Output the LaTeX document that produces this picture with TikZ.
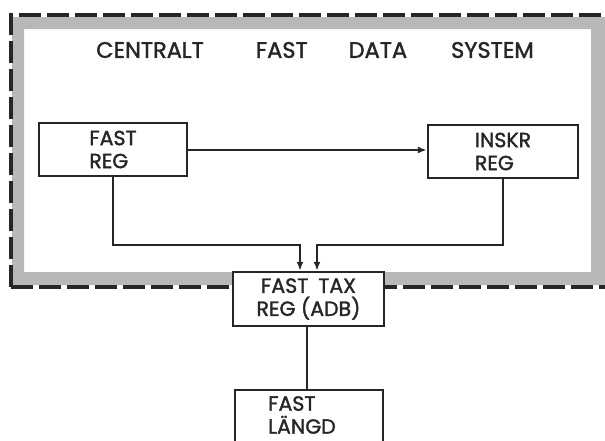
\documentclass[tikz,border=0pt]{standalone}
\usepackage{fontspec}
\setmainfont{Poppins}[FakeBold=1.6]
\usetikzlibrary{arrows.meta}
\definecolor{bandgray}{gray}{0.72}
\tikzset{
  regbox/.style={draw=black!85, line width=2.4pt, fill=white, align=left,
    font=\fontsize{20.5}{23}\selectfont, text=black!85, inner sep=0pt},
  boxtext/.style={align=left, font=\fontsize{20.5}{23}\selectfont, text=black!85, inner sep=0pt},
  conn/.style={draw=black!85, line width=2.4pt},
  arr/.style={conn, -{Latex[length=9pt,width=7pt]}},
  border/.style={draw=black!85, line width=4pt, dash pattern=on 22pt off 6pt},
}
\begin{document}
\begin{tikzpicture}[x=1pt,y=-1pt]
\useasboundingbox (0,0) rectangle (605,440);
\fill[white] (0,0) rectangle (605,440);
% shaded band of the frame
\fill[bandgray, even odd rule]
  (12,17) rectangle (615,285) (24,29) rectangle (591,272);
% dashed outer frame
\draw[border] (11,287) -- (11,15) -- (615,15);
\draw[border] (11,287) -- (615,287);
% title
\node[font=\fontsize{22.5}{26}\selectfont, text=black!85, anchor=west, inner sep=0pt] (title) at (96,50)
  {CENTRALT\hspace{52pt}FAST\hspace{41pt}DATA\hspace{44pt}SYSTEM};
% boxes
\node[regbox, minimum width=148pt, minimum height=53pt] (fr) at (113,149.5) {FAST\\REG};
\node[regbox, minimum width=150pt, minimum height=53pt] (ir) at (503,151.5) {INSKR\\REG};
\node[regbox, align=center, minimum width=151pt, minimum height=54pt] (ft) at (308.5,299) {FAST\hspace{10pt}TAX\\REG (ADB)};
% lowest box, cut off by the lower edge of the picture
\coordinate (flsw) at (235,443);
\coordinate (flnw) at (235,390);
\coordinate (flne) at (383,390);
\coordinate (flse) at (383,443);
\fill[white] (flsw) rectangle (flne);
\draw[conn] (flsw) -- (flnw) -- (flne) -- (flse);
\node[boxtext] (fl) at (302,415) {FAST\\LÄNGD};
% connectors
\coordinate (ja) at (300,245);
\coordinate (jb) at (317,245);
\draw[arr] (fr.east |- 0,150) -- (ir.west |- 0,150);
\draw[arr] (fr.south) |- (ja) -- (ja |- ft.north);
\draw[arr] (ir.south) |- (jb) -- (jb |- ft.north);
\draw[conn] (ft.south -| 307,0) -- (flnw -| 307,0);
\end{tikzpicture}
\end{document}
